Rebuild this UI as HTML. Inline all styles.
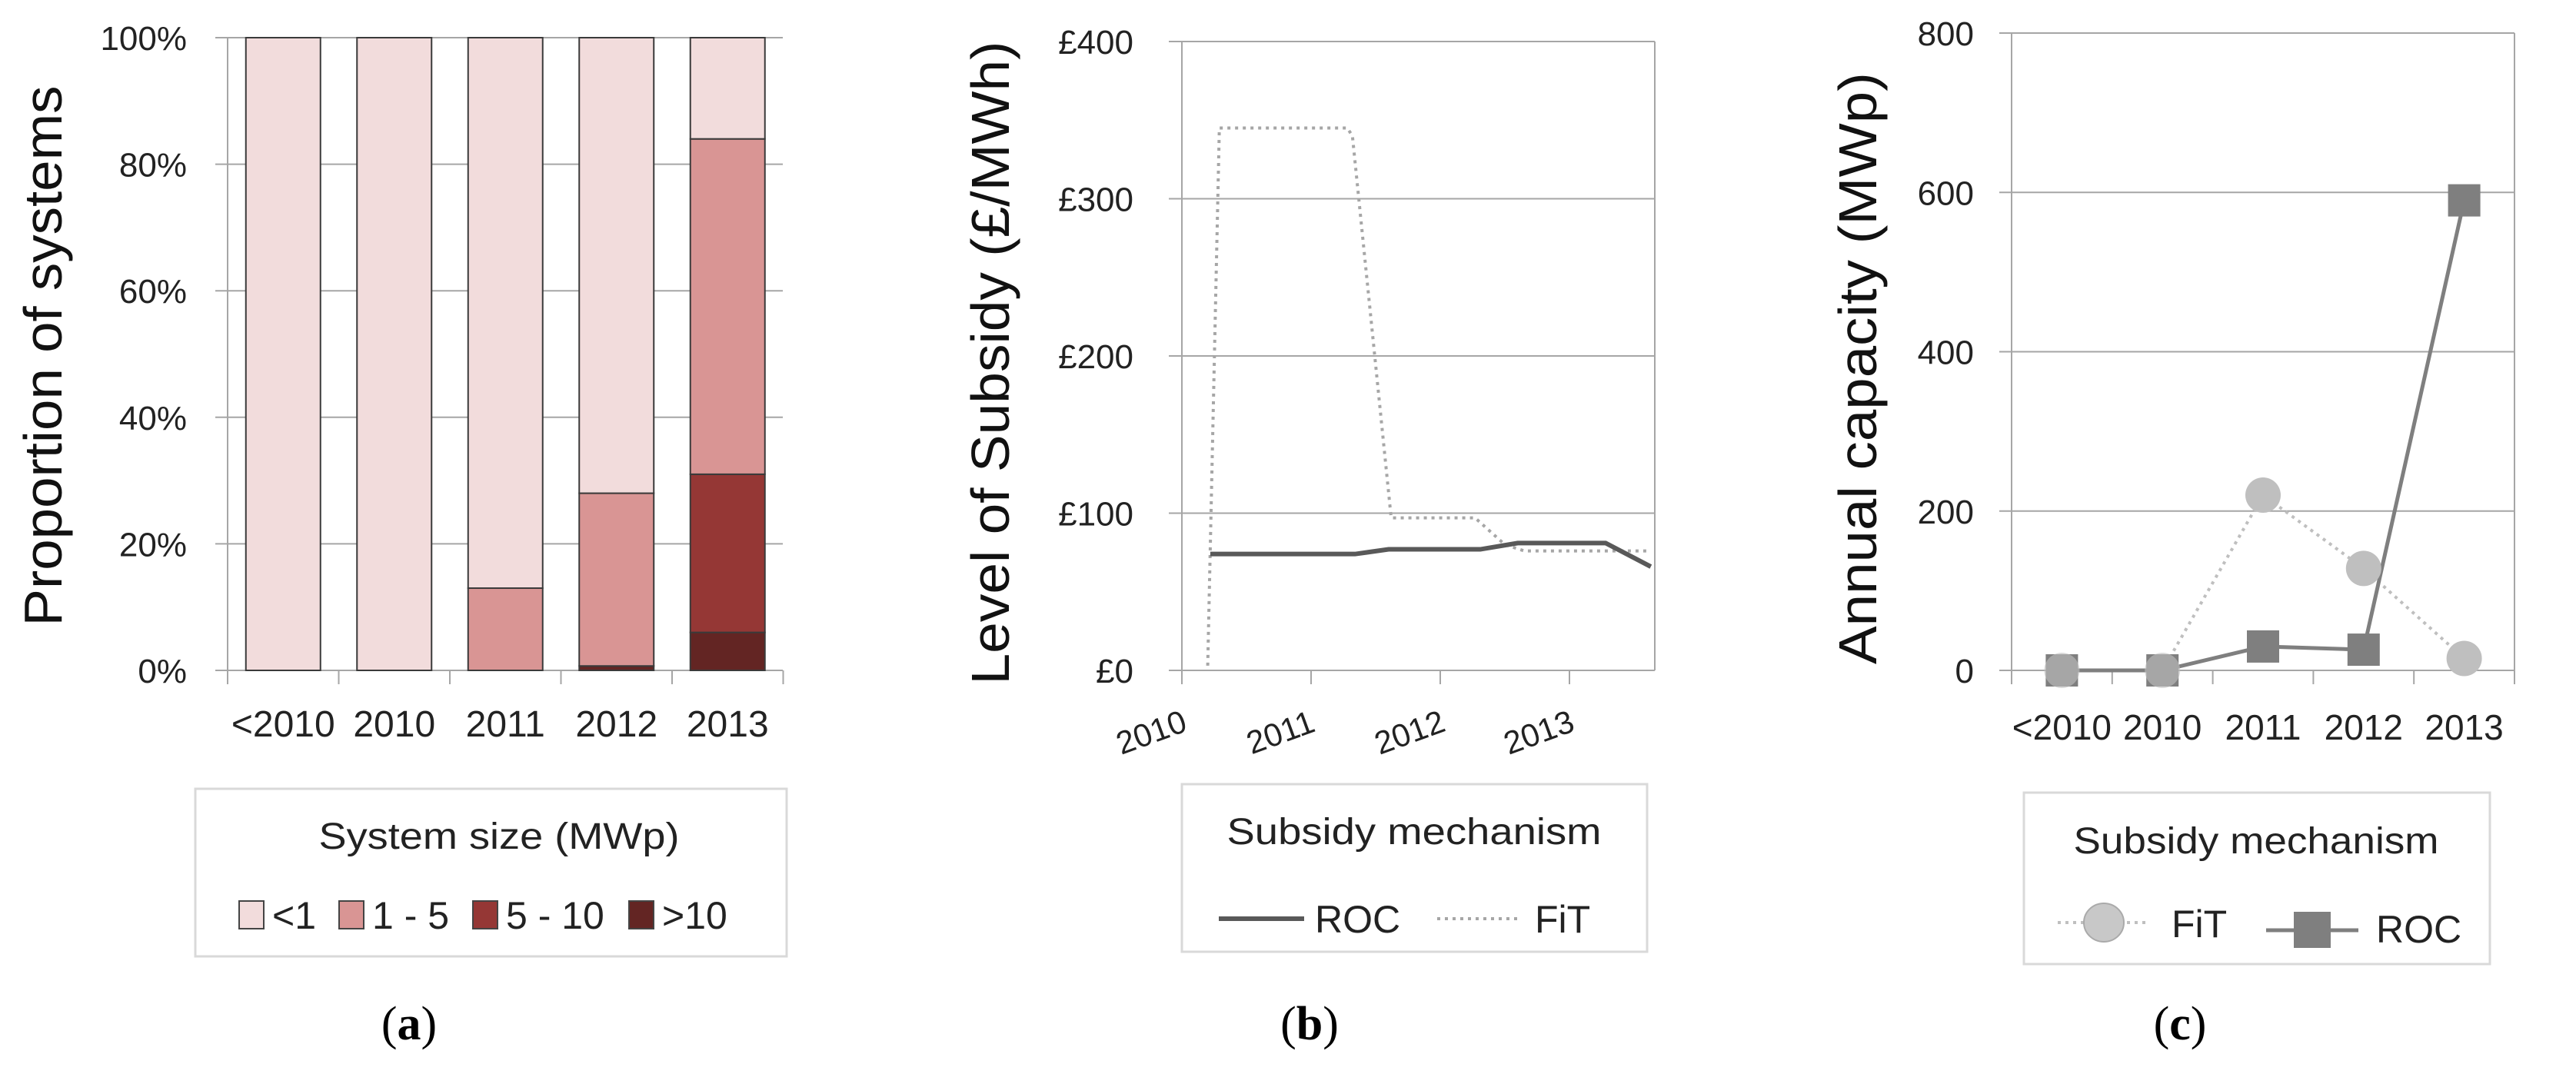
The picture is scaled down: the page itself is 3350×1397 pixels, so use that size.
<!DOCTYPE html>
<html><head><meta charset="utf-8"><style>
html,body{margin:0;padding:0;background:#fff;}
svg{display:block;font-family:"Liberation Sans",sans-serif;}
</style></head><body>
<svg id="fig" width="3350" height="1397" viewBox="0 0 3350 1397" xmlns="http://www.w3.org/2000/svg">
<g id="pa"></g>
<g id="pb"></g>
<g id="pc"></g>
</svg>
<script>
// Panel (a) data
const aCategories = ["<2010","2010","2011","2012","2013"];
const aLt1 = [100,100,87,72,16];
const a1to5 = [0,0,13,27.3,53];
const a5to10 = [0,0,0,0,25];
const aGt10 = [0,0,0,0.7,6];
const aTicks = [0,20,40,60,80,100];
// Panel (b) data
const bRocX = [2010.22,2011.34,2011.6,2012.31,2012.6,2013.28,2013.63];
const bRocY = [74,74,77,77,81,81,66];
const bFitX = [2010.2,2010.29,2011.28,2011.32,2011.62,2012.27,2012.5,2012.65,2013.63];
const bFitY = [3,345,345,340,97,97,80,76,76];
const bTicks = [0,100,200,300,400];
const bYears = [2010,2011,2012,2013];
// Panel (c) data
const cCategories = ["<2010","2010","2011","2012","2013"];
const cFit = [0,0,220,128,15];
const cRoc = [0,0,30,26,590];
const cTicks = [0,200,400,600,800];

const NS="http://www.w3.org/2000/svg";
function mk(parent,tag,attrs,text){const e=document.createElementNS(NS,tag);for(const k in attrs)e.setAttribute(k,attrs[k]);if(text!==undefined)e.textContent=text;parent.appendChild(e);return e;}
function caption(g,x,letter){
  const cap=mk(g,'text',{x:x,y:1352,'text-anchor':'middle','font-size':62,'font-family':'Liberation Serif, serif',fill:'#000'},'');
  cap.innerHTML='(<tspan font-weight="bold">'+letter+'</tspan>)';
  return cap;
}

// ---------- Panel A ----------
(function(){
const g=document.getElementById('pa');
const x0=296, cw=144.5, y0=872, y1=49;
const ys=v=>y0-(v/100)*(y0-y1);
aTicks.forEach(t=>{
  const l=mk(g,'line',{x1:280,x2:1018,y1:ys(t),y2:ys(t),stroke:'#a6a6a6','stroke-width':2});
  
  
  const tx=mk(g,'text',{x:243,y:ys(t)+16,'text-anchor':'end','font-size':44,fill:'#222'},t+'%');
  
  
});
mk(g,'line',{x1:x0,x2:x0,y1:y1,y2:y0+18,stroke:'#a6a6a6','stroke-width':2});
for(let i=1;i<=5;i++)mk(g,'line',{x1:x0+i*cw,x2:x0+i*cw,y1:y0,y2:y0+18,stroke:'#a6a6a6','stroke-width':2});
const series=[[aGt10,'#632523'],[a5to10,'#953735'],[a1to5,'#d99594'],[aLt1,'#f2dcdc']];
aCategories.forEach((c,i)=>{
  const cx=x0+cw*(i+0.5); let base=0;
  series.forEach(([arr,col],si)=>{
    const v=arr[i]; if(v<=0)return;
    const r=mk(g,'rect',{x:cx-48.5,y:ys(base+v),width:97,height:ys(base)-ys(base+v),fill:col,stroke:'#3a3a3a','stroke-width':2});
    
    
    base+=v;
  });
  const t=mk(g,'text',{x:cx,y:958,'text-anchor':'middle','font-size':48,fill:'#222'},c);
  
  
});
const yt=mk(g,'text',{x:0,y:0,transform:'translate(80,463) rotate(-90)','text-anchor':'middle','font-size':70,fill:'#111',textLength:703,lengthAdjust:'spacingAndGlyphs'},'Proportion of systems');


const lb=mk(g,'rect',{x:254,y:1026,width:769,height:218,fill:'#fff',stroke:'#d9d9d9','stroke-width':3});


mk(g,'text',{x:649,y:1104,'text-anchor':'middle','font-size':48,fill:'#222',textLength:469,lengthAdjust:'spacingAndGlyphs'},'System size (MWp)');
const items=[['<1','#f2dcdc',311],['1 - 5','#d99594',441],['5 - 10','#953735',615],['>10','#632523',818]];
items.forEach(([lab,col,x])=>{
  const s=mk(g,'rect',{x:x,y:1172,width:32,height:36,fill:col,stroke:'#444','stroke-width':2});
  
  
  mk(g,'text',{x:x+43,y:1208,'font-size':50,fill:'#222'},lab);
});
const cap=caption(g,532,'a');


})();

// ---------- Panel B ----------
(function(){
const g=document.getElementById('pb');
const xl=1537, xr=2152, y0=872, y1=54;
const xs=v=>xl+(v-2010)*168;
const ys=v=>y0-(v/400)*(y0-y1);
bTicks.forEach(t=>{
  const l=mk(g,'line',{x1:1520,x2:xr,y1:ys(t),y2:ys(t),stroke:'#a6a6a6','stroke-width':2});
  
  
  const tx=mk(g,'text',{x:1474,y:ys(t)+16,'text-anchor':'end','font-size':44,fill:'#222'},'£'+t);
  
  
});
mk(g,'line',{x1:xl,x2:xl,y1:y1,y2:y0+18,stroke:'#a6a6a6','stroke-width':2});
mk(g,'line',{x1:xr,x2:xr,y1:y1,y2:y0,stroke:'#a6a6a6','stroke-width':2});
bYears.forEach(yr=>{
  mk(g,'line',{x1:xs(yr),x2:xs(yr),y1:y0,y2:y0+18,stroke:'#a6a6a6','stroke-width':2});
  const t=mk(g,'text',{x:0,y:0,transform:`translate(${xs(yr)-35},${966}) rotate(-20)`,'text-anchor':'middle','font-size':42,fill:'#222'},String(yr));
  
  
});
const fit=mk(g,'polyline',{points:bFitX.map((x,i)=>xs(x)+','+ys(bFitY[i])).join(' '),fill:'none',stroke:'#a6a6a6','stroke-width':4,'stroke-dasharray':'4 6'});


const roc=mk(g,'polyline',{points:bRocX.map((x,i)=>xs(x)+','+ys(bRocY[i])).join(' '),fill:'none',stroke:'#595959','stroke-width':6});


const yt=mk(g,'text',{x:0,y:0,transform:'translate(1312,472) rotate(-90)','text-anchor':'middle','font-size':70,fill:'#111',textLength:837,lengthAdjust:'spacingAndGlyphs'},'Level of Subsidy (£/MWh)');


const lb=mk(g,'rect',{x:1537,y:1020,width:605,height:218,fill:'#fff',stroke:'#d9d9d9','stroke-width':3});


mk(g,'text',{x:1839,y:1098,'text-anchor':'middle','font-size':48,fill:'#222',textLength:487,lengthAdjust:'spacingAndGlyphs'},'Subsidy mechanism');
const l1=mk(g,'line',{x1:1585,x2:1696,y1:1195,y2:1195,stroke:'#595959','stroke-width':6});


mk(g,'text',{x:1710,y:1213,'font-size':50,fill:'#222'},'ROC');
const l2=mk(g,'line',{x1:1869,x2:1978,y1:1195,y2:1195,stroke:'#a6a6a6','stroke-width':4,'stroke-dasharray':'4 6'});


mk(g,'text',{x:1996,y:1213,'font-size':50,fill:'#222'},'FiT');
const cap=caption(g,1703,'b');


})();

// ---------- Panel C ----------
(function(){
const g=document.getElementById('pc');
const xl=2616, xr=3270, cw=(xr-xl)/5, y0=872, y1=43;
const xs=i=>xl+cw*(i+0.5);
const ys=v=>y0-(v/800)*(y0-y1);
cTicks.forEach(t=>{
  const l=mk(g,'line',{x1:2600,x2:xr,y1:ys(t),y2:ys(t),stroke:'#a6a6a6','stroke-width':2});
  
  
  const tx=mk(g,'text',{x:2567,y:ys(t)+16,'text-anchor':'end','font-size':44,fill:'#222'},String(t));
  
  
});
mk(g,'line',{x1:xl,x2:xl,y1:y1,y2:y0+18,stroke:'#a6a6a6','stroke-width':2});
mk(g,'line',{x1:xr,x2:xr,y1:y1,y2:y0+18,stroke:'#a6a6a6','stroke-width':2});
for(let i=1;i<5;i++)mk(g,'line',{x1:xl+i*cw,x2:xl+i*cw,y1:y0,y2:y0+18,stroke:'#a6a6a6','stroke-width':2});
cCategories.forEach((c,i)=>{
  const t=mk(g,'text',{x:xs(i),y:962,'text-anchor':'middle','font-size':46,fill:'#222'},c);
  
  
});
const fl=mk(g,'polyline',{points:cFit.map((v,i)=>xs(i)+','+ys(v)).join(' '),fill:'none',stroke:'#bfbfbf','stroke-width':4,'stroke-dasharray':'4 6'});


const rl=mk(g,'polyline',{points:cRoc.map((v,i)=>xs(i)+','+ys(v)).join(' '),fill:'none',stroke:'#7f7f7f','stroke-width':5});


cRoc.forEach((v,i)=>{
  const s=mk(g,'rect',{x:xs(i)-21,y:ys(v)-21,width:42,height:42,fill:'#7f7f7f'});
  
  
});
cFit.forEach((v,i)=>{
  const c=mk(g,'ellipse',{cx:xs(i),cy:ys(v),rx:23,ry:23,fill:'#bfbfbf',opacity:i<2?0.6:1});
  
  
});
const yt=mk(g,'text',{x:0,y:0,transform:'translate(2440,479) rotate(-90)','text-anchor':'middle','font-size':70,fill:'#111',textLength:770,lengthAdjust:'spacingAndGlyphs'},'Annual capacity (MWp)');


const lb=mk(g,'rect',{x:2632,y:1031,width:606,height:223,fill:'#fff',stroke:'#d9d9d9','stroke-width':3});


mk(g,'text',{x:2934,y:1110,'text-anchor':'middle','font-size':48,fill:'#222',textLength:475,lengthAdjust:'spacingAndGlyphs'},'Subsidy mechanism');
mk(g,'line',{x1:2676,x2:2796,y1:1200,y2:1200,stroke:'#bfbfbf','stroke-width':4,'stroke-dasharray':'4 6'});
const le1=mk(g,'ellipse',{cx:2736,cy:1200,rx:26,ry:25,fill:'#c8c8c8',stroke:'#aaa','stroke-width':2});


mk(g,'text',{x:2824,y:1219,'font-size':50,fill:'#222'},'FiT');
mk(g,'line',{x1:2947,x2:3067,y1:1210,y2:1210,stroke:'#7f7f7f','stroke-width':5});
const le2=mk(g,'rect',{x:2983,y:1186,width:48,height:47,fill:'#7f7f7f'});


mk(g,'text',{x:3090,y:1226,'font-size':50,fill:'#222'},'ROC');
const cap=caption(g,2835,'c');


})();
</script>
</body></html>
